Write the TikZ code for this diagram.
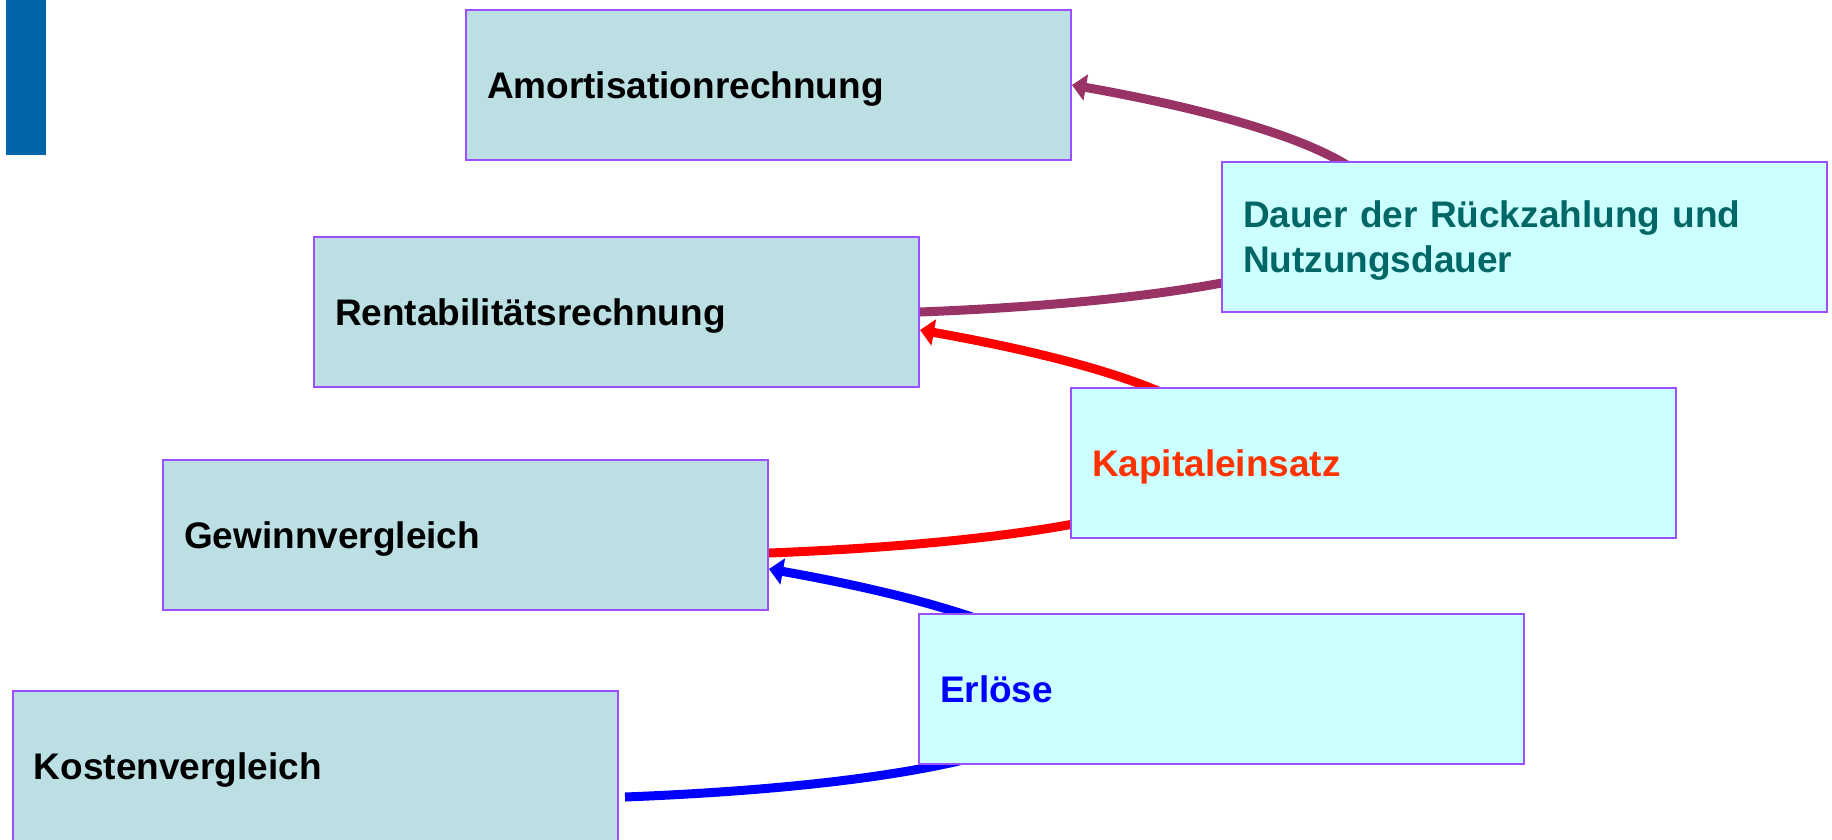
\documentclass[tikz,border=0pt]{standalone}
\usepackage{fontspec}
\setmainfont{Liberation Sans}
\usetikzlibrary{arrows.meta,calc,backgrounds}
\definecolor{lfill}{RGB}{187,223,226}
\definecolor{rfill}{RGB}{204,255,255}
\definecolor{bordc}{RGB}{155,80,255}
\definecolor{barc}{RGB}{0,102,168}
\definecolor{tealtxt}{RGB}{0,102,102}
\definecolor{orgtxt}{RGB}{255,51,0}
\definecolor{purp}{RGB}{153,51,102}
\tikzset{
  boxbase/.style={rectangle, draw=bordc, line width=2pt, anchor=north west,
    minimum width=605pt, minimum height=150pt, text width=563pt, inner xsep=21pt,
    inner ysep=0pt, text height=35pt, text depth=8pt,
    align=left, font=\fontsize{37}{45}\selectfont\bfseries},
  lbox/.style={boxbase, fill=lfill},
  rbox/.style={boxbase, fill=rfill},
  conn/.style={line width=9pt},
  tipped/.style={{Triangle[length=14pt,width=26pt]}-},
}
\begin{document}
\begin{tikzpicture}[x=1pt,y=-1pt]
\useasboundingbox (0,0) rectangle (1832,839);
\fill[barc] (6,0) rectangle (46,155);
\node[lbox] (A) at (465,9) {Amortisationrechnung};
\node[lbox] (R) at (313,236) {Rentabilitätsrechnung};
\node[lbox] (G) at (162,459) {Gewinnvergleich};
\node[lbox] (K) at (12,690) {Kostenvergleich};
\node[rbox, text=tealtxt, text depth=55pt] (D) at (1221,161) {Dauer der Rückzahlung und\\Nutzungsdauer};
\node[rbox, text=orgtxt] (KE) at (1070,387) {Kapitaleinsatz};
\node[rbox, text=blue] (E) at (918,613) {Erlöse};
\begin{pgfonlayer}{background}
\draw[conn, purp, tipped] (A.east) .. controls +(450,80) and +(562,-22) .. (R.east);
\draw[conn, red, tipped] ($(R.east)+(0,18)$) .. controls +(450,80) and +(562,-22) .. ($(G.east)+(0,18)$);
\draw[conn, blue, tipped] ($(G.east)+(0,34)$) .. controls +(450,80) and +(562,-22) .. ($(K.east)+(6,31)$);
\end{pgfonlayer}
\end{tikzpicture}
\end{document}
